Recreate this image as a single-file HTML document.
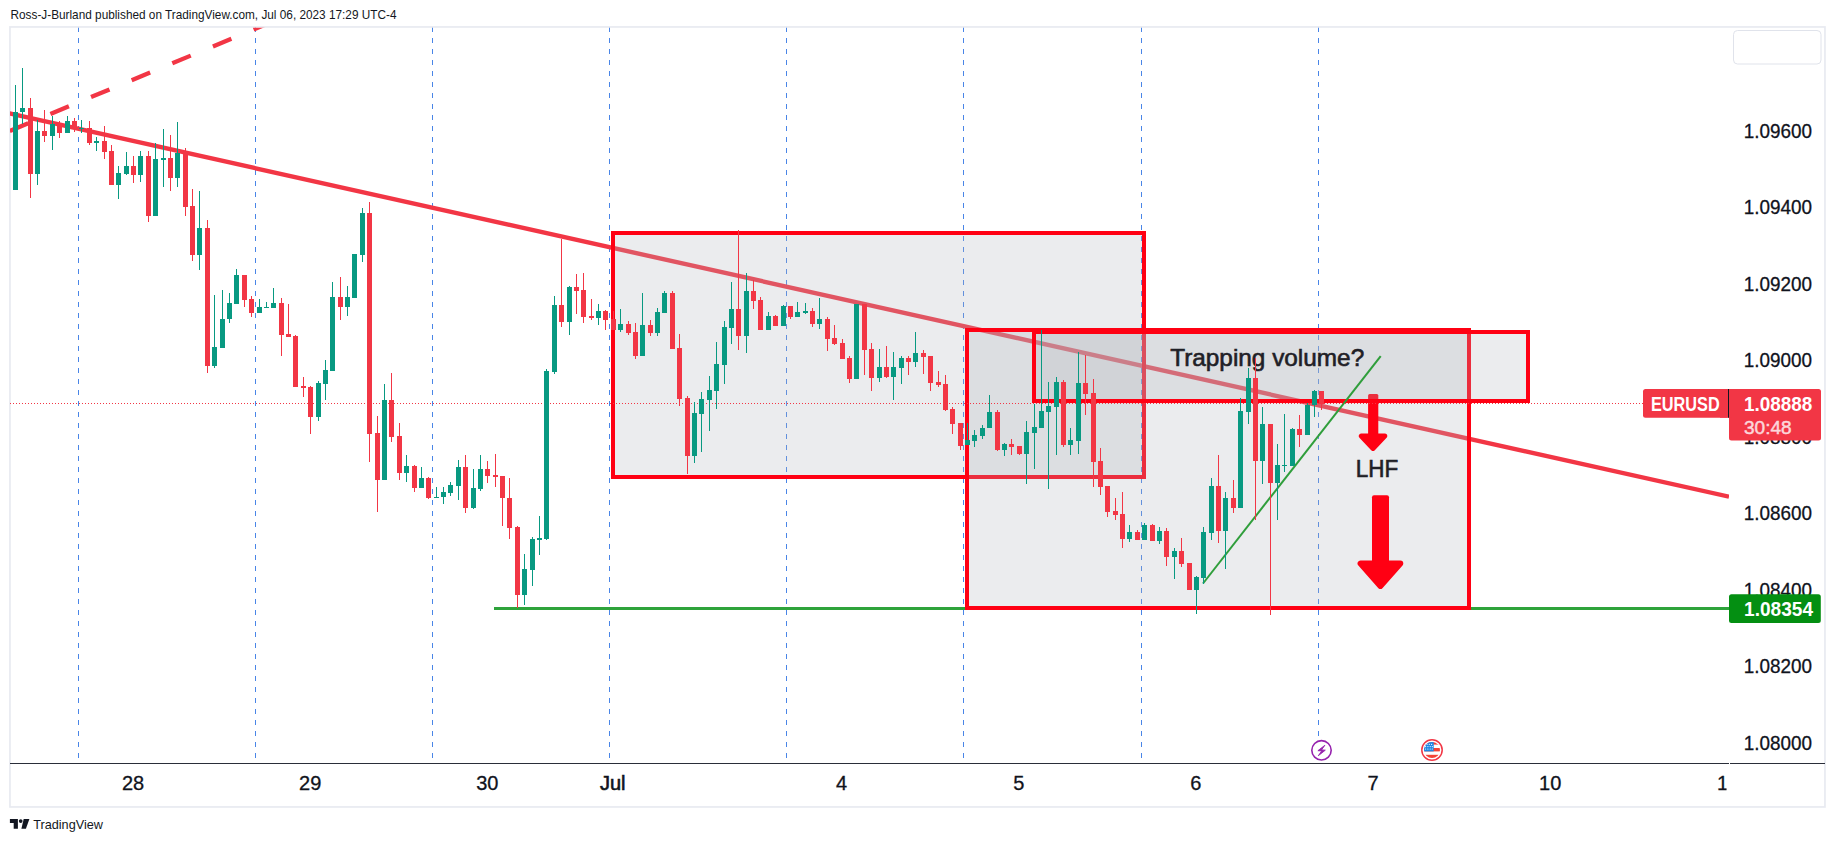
<!DOCTYPE html>
<html lang="en"><head><meta charset="utf-8"><title>EURUSD chart</title>
<style>
html,body{margin:0;padding:0;background:#fff;}
body{width:1835px;height:842px;overflow:hidden;position:relative;font-family:"Liberation Sans",sans-serif;}
svg{position:absolute;left:0;top:0;display:block}
text{font-family:"Liberation Sans",sans-serif;}
</style></head><body>
<svg width="1835" height="842" viewBox="0 0 1835 842">
<defs>
<clipPath id="pane"><rect x="10" y="27.7" width="1719" height="735.3"/></clipPath>
<clipPath id="taxis"><rect x="10" y="764" width="1716.5" height="42"/></clipPath>
<clipPath id="flagc"><circle cx="1432" cy="750" r="8"/></clipPath>
</defs>
<rect x="0" y="0" width="1835" height="842" fill="#ffffff"/>
<text x="10.5" y="19" font-size="12.9" fill="#131722" textLength="386" lengthAdjust="spacingAndGlyphs">Ross-J-Burland published on TradingView.com, Jul 06, 2023 17:29 UTC-4</text>
<rect x="9.95" y="26.95" width="1815" height="780" fill="none" stroke="#E8EAF1" stroke-width="1.7"/>
<rect x="1733.5" y="30.5" width="87.5" height="33.5" rx="4" fill="#fff" stroke="#E0E3EB" stroke-width="1"/>
<g clip-path="url(#pane)">
<line x1="78.5" y1="27" x2="78.5" y2="758" stroke="#4985E7" stroke-width="1" stroke-dasharray="5 6" shape-rendering="crispEdges"/>
<line x1="255.5" y1="27" x2="255.5" y2="758" stroke="#4985E7" stroke-width="1" stroke-dasharray="5 6" shape-rendering="crispEdges"/>
<line x1="432.5" y1="27" x2="432.5" y2="758" stroke="#4985E7" stroke-width="1" stroke-dasharray="5 6" shape-rendering="crispEdges"/>
<line x1="609.5" y1="27" x2="609.5" y2="758" stroke="#4985E7" stroke-width="1" stroke-dasharray="5 6" shape-rendering="crispEdges"/>
<line x1="786.5" y1="27" x2="786.5" y2="758" stroke="#4985E7" stroke-width="1" stroke-dasharray="5 6" shape-rendering="crispEdges"/>
<line x1="963.5" y1="27" x2="963.5" y2="758" stroke="#4985E7" stroke-width="1" stroke-dasharray="5 6" shape-rendering="crispEdges"/>
<line x1="1141.5" y1="27" x2="1141.5" y2="758" stroke="#4985E7" stroke-width="1" stroke-dasharray="5 6" shape-rendering="crispEdges"/>
<line x1="1318.5" y1="27" x2="1318.5" y2="758" stroke="#4985E7" stroke-width="1" stroke-dasharray="5 6" shape-rendering="crispEdges"/>
<rect x="494" y="607" width="1235" height="3" fill="#2EA33B"/>
<line x1="0" y1="111.3" x2="1729" y2="496.7" stroke="#F23645" stroke-width="4.4"/>
<line x1="9.8" y1="130.9" x2="270" y2="22.66" stroke="#F23645" stroke-width="4.3" stroke-dasharray="20 24"/>
<rect x="613" y="233" width="531" height="244" fill="rgba(177,180,189,0.25)" stroke="#FF0013" stroke-width="4" shape-rendering="crispEdges"/>
<rect x="967" y="330" width="502" height="278" fill="rgba(177,180,189,0.25)" stroke="#FF0013" stroke-width="4" shape-rendering="crispEdges"/>
<g fill="#FF0013" stroke="#FF0013" stroke-linejoin="round"><rect x="1368.1" y="393.9" width="10.200000000000045" height="43.200000000000045" rx="1.5" stroke="none"/><path d="M1361.2 436.1 L1384.8 436.1 L1373 448.4 Z" stroke-width="5.0"/></g>
<g fill="#FF0013" stroke="#FF0013" stroke-linejoin="round"><rect x="1372" y="495.2" width="17" height="69.40000000000003" rx="2" stroke="none"/><path d="M1360.6 563.6 L1400.3 563.6 L1380.4 585.9 Z" stroke-width="6"/></g>
<rect x="1034" y="332" width="494" height="69" fill="rgba(177,180,189,0.25)" stroke="#FF0013" stroke-width="4" shape-rendering="crispEdges"/>
<line x1="1203" y1="583.5" x2="1380.7" y2="356.1" stroke="#2F9E3B" stroke-width="2"/>
<line x1="10" y1="403.5" x2="1729" y2="403.5" stroke="#F23645" stroke-width="1" stroke-dasharray="1 2" shape-rendering="crispEdges"/>
<text x="1170.2" y="365.7" font-size="24" fill="#1F2026" stroke="#1F2026" stroke-width="0.6" textLength="194" lengthAdjust="spacingAndGlyphs">Trapping volume?</text>
<text x="1355.8" y="476.6" font-size="23.5" fill="#1F2026" stroke="#1F2026" stroke-width="0.6" textLength="42.5" lengthAdjust="spacingAndGlyphs">LHF</text>
<g shape-rendering="crispEdges">
<rect x="15" y="85" width="1" height="105" fill="#089981"/><rect x="13" y="112" width="5" height="78" fill="#089981"/>
<rect x="22" y="68" width="1" height="56" fill="#089981"/><rect x="20" y="108" width="5" height="4" fill="#089981"/>
<rect x="30" y="98" width="1" height="100" fill="#F23645"/><rect x="28" y="108" width="5" height="66" fill="#F23645"/>
<rect x="37" y="120" width="1" height="65" fill="#089981"/><rect x="35" y="131" width="5" height="43" fill="#089981"/>
<rect x="44" y="110" width="1" height="32" fill="#F23645"/><rect x="42" y="131" width="5" height="5" fill="#F23645"/>
<rect x="52" y="116" width="1" height="34" fill="#089981"/><rect x="50" y="124" width="5" height="12" fill="#089981"/>
<rect x="59" y="121" width="1" height="17" fill="#F23645"/><rect x="57" y="124" width="5" height="9" fill="#F23645"/>
<rect x="67" y="116" width="1" height="17" fill="#089981"/><rect x="65" y="121" width="5" height="12" fill="#089981"/>
<rect x="74" y="118" width="1" height="14" fill="#F23645"/><rect x="72" y="121" width="5" height="7" fill="#F23645"/>
<rect x="81" y="120" width="1" height="13" fill="#089981"/><rect x="79" y="128" width="5" height="1" fill="#089981"/>
<rect x="89" y="121" width="1" height="24" fill="#F23645"/><rect x="87" y="128" width="5" height="15" fill="#F23645"/>
<rect x="96" y="137" width="1" height="14" fill="#089981"/><rect x="94" y="141" width="5" height="2" fill="#089981"/>
<rect x="104" y="126" width="1" height="33" fill="#F23645"/><rect x="102" y="141" width="5" height="11" fill="#F23645"/>
<rect x="111" y="145" width="1" height="40" fill="#F23645"/><rect x="109" y="151" width="5" height="34" fill="#F23645"/>
<rect x="118" y="166" width="1" height="33" fill="#089981"/><rect x="116" y="173" width="5" height="12" fill="#089981"/>
<rect x="126" y="152" width="1" height="23" fill="#089981"/><rect x="124" y="166" width="5" height="8" fill="#089981"/>
<rect x="133" y="156" width="1" height="27" fill="#F23645"/><rect x="131" y="166" width="5" height="9" fill="#F23645"/>
<rect x="140" y="151" width="1" height="31" fill="#089981"/><rect x="138" y="156" width="5" height="19" fill="#089981"/>
<rect x="148" y="151" width="1" height="71" fill="#F23645"/><rect x="146" y="156" width="5" height="60" fill="#F23645"/>
<rect x="155" y="143" width="1" height="73" fill="#089981"/><rect x="153" y="159" width="5" height="57" fill="#089981"/>
<rect x="163" y="129" width="1" height="58" fill="#089981"/><rect x="161" y="158" width="5" height="2" fill="#089981"/>
<rect x="170" y="135" width="1" height="56" fill="#F23645"/><rect x="168" y="158" width="5" height="20" fill="#F23645"/>
<rect x="177" y="122" width="1" height="65" fill="#089981"/><rect x="175" y="153" width="5" height="25" fill="#089981"/>
<rect x="185" y="148" width="1" height="68" fill="#F23645"/><rect x="183" y="153" width="5" height="54" fill="#F23645"/>
<rect x="192" y="189" width="1" height="72" fill="#F23645"/><rect x="190" y="206" width="5" height="49" fill="#F23645"/>
<rect x="199" y="191" width="1" height="79" fill="#089981"/><rect x="197" y="228" width="5" height="27" fill="#089981"/>
<rect x="207" y="220" width="1" height="153" fill="#F23645"/><rect x="205" y="228" width="5" height="138" fill="#F23645"/>
<rect x="214" y="295" width="1" height="73" fill="#089981"/><rect x="212" y="347" width="5" height="19" fill="#089981"/>
<rect x="222" y="290" width="1" height="58" fill="#089981"/><rect x="220" y="319" width="5" height="29" fill="#089981"/>
<rect x="229" y="293" width="1" height="30" fill="#089981"/><rect x="227" y="303" width="5" height="16" fill="#089981"/>
<rect x="236" y="269" width="1" height="35" fill="#089981"/><rect x="234" y="275" width="5" height="29" fill="#089981"/>
<rect x="244" y="275" width="1" height="32" fill="#F23645"/><rect x="242" y="275" width="5" height="25" fill="#F23645"/>
<rect x="251" y="296" width="1" height="21" fill="#F23645"/><rect x="249" y="299" width="5" height="14" fill="#F23645"/>
<rect x="259" y="299" width="1" height="14" fill="#089981"/><rect x="257" y="307" width="5" height="6" fill="#089981"/>
<rect x="266" y="302" width="1" height="6" fill="#089981"/><rect x="264" y="307" width="5" height="1" fill="#089981"/>
<rect x="273" y="288" width="1" height="20" fill="#089981"/><rect x="271" y="303" width="5" height="5" fill="#089981"/>
<rect x="281" y="298" width="1" height="58" fill="#F23645"/><rect x="279" y="303" width="5" height="32" fill="#F23645"/>
<rect x="288" y="304" width="1" height="33" fill="#F23645"/><rect x="286" y="334" width="5" height="3" fill="#F23645"/>
<rect x="295" y="335" width="1" height="52" fill="#F23645"/><rect x="293" y="336" width="5" height="51" fill="#F23645"/>
<rect x="303" y="377" width="1" height="20" fill="#F23645"/><rect x="301" y="386" width="5" height="2" fill="#F23645"/>
<rect x="310" y="386" width="1" height="48" fill="#F23645"/><rect x="308" y="387" width="5" height="30" fill="#F23645"/>
<rect x="318" y="381" width="1" height="40" fill="#089981"/><rect x="316" y="383" width="5" height="34" fill="#089981"/>
<rect x="325" y="360" width="1" height="40" fill="#089981"/><rect x="323" y="370" width="5" height="14" fill="#089981"/>
<rect x="332" y="282" width="1" height="89" fill="#089981"/><rect x="330" y="297" width="5" height="74" fill="#089981"/>
<rect x="340" y="277" width="1" height="43" fill="#F23645"/><rect x="338" y="297" width="5" height="10" fill="#F23645"/>
<rect x="347" y="286" width="1" height="30" fill="#089981"/><rect x="345" y="297" width="5" height="10" fill="#089981"/>
<rect x="354" y="254" width="1" height="44" fill="#089981"/><rect x="352" y="254" width="5" height="44" fill="#089981"/>
<rect x="362" y="208" width="1" height="54" fill="#089981"/><rect x="360" y="213" width="5" height="42" fill="#089981"/>
<rect x="369" y="202" width="1" height="260" fill="#F23645"/><rect x="367" y="213" width="5" height="221" fill="#F23645"/>
<rect x="377" y="416" width="1" height="96" fill="#F23645"/><rect x="375" y="433" width="5" height="47" fill="#F23645"/>
<rect x="384" y="384" width="1" height="96" fill="#089981"/><rect x="382" y="400" width="5" height="80" fill="#089981"/>
<rect x="391" y="373" width="1" height="69" fill="#F23645"/><rect x="389" y="400" width="5" height="37" fill="#F23645"/>
<rect x="399" y="423" width="1" height="57" fill="#F23645"/><rect x="397" y="436" width="5" height="37" fill="#F23645"/>
<rect x="406" y="455" width="1" height="27" fill="#089981"/><rect x="404" y="466" width="5" height="7" fill="#089981"/>
<rect x="414" y="465" width="1" height="27" fill="#F23645"/><rect x="412" y="466" width="5" height="22" fill="#F23645"/>
<rect x="421" y="467" width="1" height="21" fill="#089981"/><rect x="419" y="478" width="5" height="10" fill="#089981"/>
<rect x="428" y="477" width="1" height="22" fill="#F23645"/><rect x="426" y="478" width="5" height="20" fill="#F23645"/>
<rect x="436" y="487" width="1" height="11" fill="#089981"/><rect x="434" y="497" width="5" height="1" fill="#089981"/>
<rect x="443" y="487" width="1" height="17" fill="#089981"/><rect x="441" y="492" width="5" height="5" fill="#089981"/>
<rect x="450" y="482" width="1" height="14" fill="#089981"/><rect x="448" y="485" width="5" height="8" fill="#089981"/>
<rect x="458" y="460" width="1" height="40" fill="#089981"/><rect x="456" y="467" width="5" height="19" fill="#089981"/>
<rect x="465" y="455" width="1" height="58" fill="#F23645"/><rect x="463" y="467" width="5" height="41" fill="#F23645"/>
<rect x="473" y="469" width="1" height="40" fill="#089981"/><rect x="471" y="488" width="5" height="20" fill="#089981"/>
<rect x="480" y="455" width="1" height="36" fill="#089981"/><rect x="478" y="469" width="5" height="20" fill="#089981"/>
<rect x="487" y="461" width="1" height="22" fill="#F23645"/><rect x="485" y="469" width="5" height="7" fill="#F23645"/>
<rect x="495" y="454" width="1" height="33" fill="#F23645"/><rect x="493" y="475" width="5" height="2" fill="#F23645"/>
<rect x="502" y="476" width="1" height="50" fill="#F23645"/><rect x="500" y="476" width="5" height="22" fill="#F23645"/>
<rect x="509" y="478" width="1" height="61" fill="#F23645"/><rect x="507" y="498" width="5" height="30" fill="#F23645"/>
<rect x="517" y="526" width="1" height="82" fill="#F23645"/><rect x="515" y="527" width="5" height="68" fill="#F23645"/>
<rect x="524" y="554" width="1" height="51" fill="#089981"/><rect x="522" y="569" width="5" height="26" fill="#089981"/>
<rect x="532" y="537" width="1" height="49" fill="#089981"/><rect x="530" y="539" width="5" height="31" fill="#089981"/>
<rect x="539" y="516" width="1" height="39" fill="#089981"/><rect x="537" y="538" width="5" height="2" fill="#089981"/>
<rect x="546" y="369" width="1" height="171" fill="#089981"/><rect x="544" y="371" width="5" height="168" fill="#089981"/>
<rect x="554" y="296" width="1" height="78" fill="#089981"/><rect x="552" y="305" width="5" height="67" fill="#089981"/>
<rect x="561" y="239" width="1" height="88" fill="#F23645"/><rect x="559" y="305" width="5" height="17" fill="#F23645"/>
<rect x="569" y="286" width="1" height="49" fill="#089981"/><rect x="567" y="287" width="5" height="35" fill="#089981"/>
<rect x="576" y="274" width="1" height="40" fill="#F23645"/><rect x="574" y="287" width="5" height="4" fill="#F23645"/>
<rect x="583" y="273" width="1" height="50" fill="#F23645"/><rect x="581" y="290" width="5" height="27" fill="#F23645"/>
<rect x="591" y="299" width="1" height="21" fill="#F23645"/><rect x="589" y="316" width="5" height="2" fill="#F23645"/>
<rect x="598" y="304" width="1" height="21" fill="#089981"/><rect x="596" y="311" width="5" height="7" fill="#089981"/>
<rect x="605" y="310" width="1" height="20" fill="#F23645"/><rect x="603" y="311" width="5" height="9" fill="#F23645"/>
<rect x="613" y="311" width="1" height="19" fill="#F23645"/><rect x="611" y="319" width="5" height="11" fill="#F23645"/>
<rect x="620" y="309" width="1" height="23" fill="#089981"/><rect x="618" y="324" width="5" height="6" fill="#089981"/>
<rect x="628" y="321" width="1" height="14" fill="#F23645"/><rect x="626" y="324" width="5" height="9" fill="#F23645"/>
<rect x="635" y="323" width="1" height="36" fill="#F23645"/><rect x="633" y="332" width="5" height="24" fill="#F23645"/>
<rect x="642" y="293" width="1" height="63" fill="#089981"/><rect x="640" y="325" width="5" height="31" fill="#089981"/>
<rect x="650" y="320" width="1" height="16" fill="#F23645"/><rect x="648" y="325" width="5" height="8" fill="#F23645"/>
<rect x="657" y="308" width="1" height="28" fill="#089981"/><rect x="655" y="312" width="5" height="21" fill="#089981"/>
<rect x="664" y="291" width="1" height="22" fill="#089981"/><rect x="662" y="293" width="5" height="20" fill="#089981"/>
<rect x="672" y="291" width="1" height="58" fill="#F23645"/><rect x="670" y="293" width="5" height="56" fill="#F23645"/>
<rect x="679" y="334" width="1" height="72" fill="#F23645"/><rect x="677" y="348" width="5" height="51" fill="#F23645"/>
<rect x="687" y="396" width="1" height="78" fill="#F23645"/><rect x="685" y="398" width="5" height="58" fill="#F23645"/>
<rect x="694" y="402" width="1" height="61" fill="#089981"/><rect x="692" y="413" width="5" height="43" fill="#089981"/>
<rect x="701" y="392" width="1" height="60" fill="#089981"/><rect x="699" y="399" width="5" height="15" fill="#089981"/>
<rect x="709" y="376" width="1" height="55" fill="#089981"/><rect x="707" y="390" width="5" height="10" fill="#089981"/>
<rect x="716" y="342" width="1" height="67" fill="#089981"/><rect x="714" y="364" width="5" height="27" fill="#089981"/>
<rect x="724" y="321" width="1" height="63" fill="#089981"/><rect x="722" y="327" width="5" height="38" fill="#089981"/>
<rect x="731" y="282" width="1" height="62" fill="#089981"/><rect x="729" y="309" width="5" height="19" fill="#089981"/>
<rect x="738" y="230" width="1" height="120" fill="#F23645"/><rect x="736" y="309" width="5" height="27" fill="#F23645"/>
<rect x="746" y="273" width="1" height="80" fill="#089981"/><rect x="744" y="291" width="5" height="45" fill="#089981"/>
<rect x="753" y="280" width="1" height="29" fill="#F23645"/><rect x="751" y="291" width="5" height="10" fill="#F23645"/>
<rect x="760" y="297" width="1" height="33" fill="#F23645"/><rect x="758" y="300" width="5" height="30" fill="#F23645"/>
<rect x="768" y="312" width="1" height="18" fill="#089981"/><rect x="766" y="316" width="5" height="14" fill="#089981"/>
<rect x="775" y="315" width="1" height="11" fill="#F23645"/><rect x="773" y="316" width="5" height="10" fill="#F23645"/>
<rect x="783" y="305" width="1" height="21" fill="#089981"/><rect x="781" y="306" width="5" height="20" fill="#089981"/>
<rect x="790" y="306" width="1" height="13" fill="#F23645"/><rect x="788" y="306" width="5" height="11" fill="#F23645"/>
<rect x="797" y="302" width="1" height="15" fill="#089981"/><rect x="795" y="312" width="5" height="5" fill="#089981"/>
<rect x="805" y="303" width="1" height="11" fill="#089981"/><rect x="803" y="311" width="5" height="2" fill="#089981"/>
<rect x="812" y="308" width="1" height="19" fill="#F23645"/><rect x="810" y="311" width="5" height="13" fill="#F23645"/>
<rect x="819" y="298" width="1" height="31" fill="#089981"/><rect x="817" y="319" width="5" height="5" fill="#089981"/>
<rect x="827" y="317" width="1" height="34" fill="#F23645"/><rect x="825" y="319" width="5" height="20" fill="#F23645"/>
<rect x="834" y="325" width="1" height="20" fill="#F23645"/><rect x="832" y="338" width="5" height="6" fill="#F23645"/>
<rect x="842" y="339" width="1" height="20" fill="#F23645"/><rect x="840" y="343" width="5" height="16" fill="#F23645"/>
<rect x="849" y="356" width="1" height="27" fill="#F23645"/><rect x="847" y="358" width="5" height="21" fill="#F23645"/>
<rect x="856" y="304" width="1" height="75" fill="#089981"/><rect x="854" y="304" width="5" height="75" fill="#089981"/>
<rect x="864" y="304" width="1" height="71" fill="#F23645"/><rect x="862" y="304" width="5" height="46" fill="#F23645"/>
<rect x="871" y="343" width="1" height="48" fill="#F23645"/><rect x="869" y="349" width="5" height="29" fill="#F23645"/>
<rect x="879" y="349" width="1" height="33" fill="#089981"/><rect x="877" y="367" width="5" height="11" fill="#089981"/>
<rect x="886" y="346" width="1" height="32" fill="#F23645"/><rect x="884" y="367" width="5" height="10" fill="#F23645"/>
<rect x="893" y="352" width="1" height="48" fill="#089981"/><rect x="891" y="367" width="5" height="10" fill="#089981"/>
<rect x="901" y="356" width="1" height="28" fill="#089981"/><rect x="899" y="358" width="5" height="10" fill="#089981"/>
<rect x="908" y="356" width="1" height="19" fill="#F23645"/><rect x="906" y="358" width="5" height="4" fill="#F23645"/>
<rect x="915" y="332" width="1" height="35" fill="#089981"/><rect x="913" y="353" width="5" height="9" fill="#089981"/>
<rect x="923" y="350" width="1" height="24" fill="#F23645"/><rect x="921" y="353" width="5" height="4" fill="#F23645"/>
<rect x="930" y="356" width="1" height="35" fill="#F23645"/><rect x="928" y="356" width="5" height="27" fill="#F23645"/>
<rect x="938" y="371" width="1" height="16" fill="#F23645"/><rect x="936" y="382" width="5" height="3" fill="#F23645"/>
<rect x="945" y="375" width="1" height="36" fill="#F23645"/><rect x="943" y="384" width="5" height="26" fill="#F23645"/>
<rect x="952" y="407" width="1" height="27" fill="#F23645"/><rect x="950" y="409" width="5" height="15" fill="#F23645"/>
<rect x="960" y="423" width="1" height="27" fill="#F23645"/><rect x="958" y="423" width="5" height="23" fill="#F23645"/>
<rect x="967" y="423" width="1" height="22" fill="#089981"/><rect x="965" y="440" width="5" height="5" fill="#089981"/>
<rect x="974" y="430" width="1" height="17" fill="#089981"/><rect x="972" y="435" width="5" height="6" fill="#089981"/>
<rect x="982" y="425" width="1" height="14" fill="#089981"/><rect x="980" y="428" width="5" height="8" fill="#089981"/>
<rect x="989" y="395" width="1" height="33" fill="#089981"/><rect x="987" y="412" width="5" height="16" fill="#089981"/>
<rect x="997" y="410" width="1" height="41" fill="#F23645"/><rect x="995" y="412" width="5" height="38" fill="#F23645"/>
<rect x="1004" y="443" width="1" height="13" fill="#089981"/><rect x="1002" y="444" width="5" height="6" fill="#089981"/>
<rect x="1011" y="439" width="1" height="16" fill="#F23645"/><rect x="1009" y="444" width="5" height="3" fill="#F23645"/>
<rect x="1019" y="446" width="1" height="9" fill="#F23645"/><rect x="1017" y="446" width="5" height="8" fill="#F23645"/>
<rect x="1026" y="421" width="1" height="63" fill="#089981"/><rect x="1024" y="432" width="5" height="22" fill="#089981"/>
<rect x="1034" y="404" width="1" height="65" fill="#089981"/><rect x="1032" y="427" width="5" height="6" fill="#089981"/>
<rect x="1041" y="330" width="1" height="98" fill="#089981"/><rect x="1039" y="411" width="5" height="17" fill="#089981"/>
<rect x="1048" y="382" width="1" height="107" fill="#089981"/><rect x="1046" y="406" width="5" height="6" fill="#089981"/>
<rect x="1056" y="377" width="1" height="78" fill="#089981"/><rect x="1054" y="382" width="5" height="25" fill="#089981"/>
<rect x="1063" y="380" width="1" height="67" fill="#F23645"/><rect x="1061" y="382" width="5" height="63" fill="#F23645"/>
<rect x="1070" y="428" width="1" height="27" fill="#089981"/><rect x="1068" y="440" width="5" height="5" fill="#089981"/>
<rect x="1078" y="352" width="1" height="102" fill="#089981"/><rect x="1076" y="383" width="5" height="58" fill="#089981"/>
<rect x="1085" y="355" width="1" height="60" fill="#F23645"/><rect x="1083" y="383" width="5" height="11" fill="#F23645"/>
<rect x="1093" y="379" width="1" height="108" fill="#F23645"/><rect x="1091" y="393" width="5" height="69" fill="#F23645"/>
<rect x="1100" y="448" width="1" height="47" fill="#F23645"/><rect x="1098" y="461" width="5" height="26" fill="#F23645"/>
<rect x="1107" y="486" width="1" height="31" fill="#F23645"/><rect x="1105" y="486" width="5" height="26" fill="#F23645"/>
<rect x="1115" y="498" width="1" height="22" fill="#F23645"/><rect x="1113" y="511" width="5" height="4" fill="#F23645"/>
<rect x="1122" y="492" width="1" height="56" fill="#F23645"/><rect x="1120" y="514" width="5" height="25" fill="#F23645"/>
<rect x="1129" y="525" width="1" height="17" fill="#089981"/><rect x="1127" y="532" width="5" height="7" fill="#089981"/>
<rect x="1137" y="530" width="1" height="10" fill="#F23645"/><rect x="1135" y="532" width="5" height="8" fill="#F23645"/>
<rect x="1144" y="523" width="1" height="17" fill="#089981"/><rect x="1142" y="525" width="5" height="15" fill="#089981"/>
<rect x="1152" y="524" width="1" height="17" fill="#F23645"/><rect x="1150" y="525" width="5" height="16" fill="#F23645"/>
<rect x="1159" y="527" width="1" height="17" fill="#089981"/><rect x="1157" y="531" width="5" height="10" fill="#089981"/>
<rect x="1166" y="528" width="1" height="38" fill="#F23645"/><rect x="1164" y="531" width="5" height="26" fill="#F23645"/>
<rect x="1174" y="548" width="1" height="31" fill="#089981"/><rect x="1172" y="551" width="5" height="6" fill="#089981"/>
<rect x="1181" y="538" width="1" height="29" fill="#F23645"/><rect x="1179" y="551" width="5" height="13" fill="#F23645"/>
<rect x="1189" y="563" width="1" height="27" fill="#F23645"/><rect x="1187" y="563" width="5" height="27" fill="#F23645"/>
<rect x="1196" y="576" width="1" height="38" fill="#089981"/><rect x="1194" y="577" width="5" height="13" fill="#089981"/>
<rect x="1203" y="527" width="1" height="57" fill="#089981"/><rect x="1201" y="532" width="5" height="46" fill="#089981"/>
<rect x="1211" y="478" width="1" height="62" fill="#089981"/><rect x="1209" y="486" width="5" height="47" fill="#089981"/>
<rect x="1218" y="455" width="1" height="88" fill="#F23645"/><rect x="1216" y="486" width="5" height="45" fill="#F23645"/>
<rect x="1225" y="492" width="1" height="77" fill="#089981"/><rect x="1223" y="498" width="5" height="33" fill="#089981"/>
<rect x="1233" y="480" width="1" height="33" fill="#F23645"/><rect x="1231" y="498" width="5" height="10" fill="#F23645"/>
<rect x="1240" y="398" width="1" height="110" fill="#089981"/><rect x="1238" y="411" width="5" height="97" fill="#089981"/>
<rect x="1248" y="368" width="1" height="56" fill="#089981"/><rect x="1246" y="378" width="5" height="34" fill="#089981"/>
<rect x="1255" y="358" width="1" height="162" fill="#F23645"/><rect x="1253" y="378" width="5" height="83" fill="#F23645"/>
<rect x="1262" y="407" width="1" height="77" fill="#089981"/><rect x="1260" y="424" width="5" height="37" fill="#089981"/>
<rect x="1270" y="424" width="1" height="191" fill="#F23645"/><rect x="1268" y="424" width="5" height="59" fill="#F23645"/>
<rect x="1277" y="444" width="1" height="76" fill="#089981"/><rect x="1275" y="465" width="5" height="18" fill="#089981"/>
<rect x="1284" y="414" width="1" height="58" fill="#089981"/><rect x="1282" y="465" width="5" height="1" fill="#089981"/>
<rect x="1292" y="428" width="1" height="38" fill="#089981"/><rect x="1290" y="429" width="5" height="37" fill="#089981"/>
<rect x="1299" y="415" width="1" height="32" fill="#F23645"/><rect x="1297" y="429" width="5" height="6" fill="#F23645"/>
<rect x="1307" y="403" width="1" height="32" fill="#089981"/><rect x="1305" y="405" width="5" height="30" fill="#089981"/>
<rect x="1314" y="390" width="1" height="27" fill="#089981"/><rect x="1312" y="391" width="5" height="14" fill="#089981"/>
<rect x="1321" y="391" width="1" height="19" fill="#F23645"/><rect x="1319" y="391" width="5" height="13" fill="#F23645"/>
</g>
<g>
<circle cx="1321.5" cy="750.3" r="9.7" fill="#fff" stroke="#9622AE" stroke-width="1.6"/>
<path d="M1324.85 745.3 L1317.9 750.7 L1321.8 750.9 L1318.3 755.7 L1325.3 750.2 L1321.5 749.9 Z" fill="#9622AE" stroke="#9622AE" stroke-width="0.9" stroke-linejoin="round"/>
<circle cx="1432" cy="750" r="10.2" fill="#fff" stroke="#F23645" stroke-width="1.5"/>
<g clip-path="url(#flagc)">
<rect x="1423" y="741" width="18" height="18" fill="#fff"/>
<rect x="1423" y="741" width="18" height="3.6" fill="#F44336"/>
<rect x="1423" y="748" width="18" height="3.4" fill="#F44336"/>
<rect x="1423" y="754.8" width="18" height="4" fill="#F44336"/>
<rect x="1423" y="741" width="10.7" height="10.4" fill="#1E88E5"/>
<g fill="#fff"><circle cx="1427" cy="744.3" r="0.6"/><circle cx="1429.3" cy="744.3" r="0.6"/><circle cx="1431.6" cy="744.3" r="0.6"/>
<circle cx="1425.6" cy="746.6" r="0.6"/><circle cx="1427.9" cy="746.6" r="0.6"/><circle cx="1430.2" cy="746.6" r="0.6"/><circle cx="1432.3" cy="746.6" r="0.6"/>
<circle cx="1425.6" cy="749" r="0.6"/><circle cx="1427.9" cy="749" r="0.6"/><circle cx="1430.2" cy="749" r="0.6"/><circle cx="1432.3" cy="749" r="0.6"/></g>
</g>
</g>
</g>
<rect x="10" y="763" width="1815" height="1" fill="#2A2E39"/>
<rect x="1729" y="763" width="1" height="1" fill="#fff"/>
<g clip-path="url(#taxis)" font-size="20" fill="#10131C" stroke="#10131C" stroke-width="0.3" text-anchor="middle">
<text x="133.0" y="790">28</text>
<text x="310.2" y="790">29</text>
<text x="487.3" y="790">30</text>
<text x="612.8" y="790" stroke-width="0.6">Jul</text>
<text x="841.6" y="790">4</text>
<text x="1018.8" y="790">5</text>
<text x="1195.9" y="790">6</text>
<text x="1373.0" y="790">7</text>
<text x="1550.2" y="790">10</text>
<text x="1727.3" y="790">11</text>
</g>
<g font-size="20" fill="#10131C" stroke="#10131C" stroke-width="0.3">
<text x="1743.7" y="749.80" textLength="68.3" lengthAdjust="spacingAndGlyphs">1.08000</text>
<text x="1743.7" y="673.30" textLength="68.3" lengthAdjust="spacingAndGlyphs">1.08200</text>
<text x="1743.7" y="596.80" textLength="68.3" lengthAdjust="spacingAndGlyphs">1.08400</text>
<text x="1743.7" y="520.30" textLength="68.3" lengthAdjust="spacingAndGlyphs">1.08600</text>
<text x="1743.7" y="443.80" textLength="68.3" lengthAdjust="spacingAndGlyphs">1.08800</text>
<text x="1743.7" y="367.30" textLength="68.3" lengthAdjust="spacingAndGlyphs">1.09000</text>
<text x="1743.7" y="290.80" textLength="68.3" lengthAdjust="spacingAndGlyphs">1.09200</text>
<text x="1743.7" y="214.30" textLength="68.3" lengthAdjust="spacingAndGlyphs">1.09400</text>
<text x="1743.7" y="137.80" textLength="68.3" lengthAdjust="spacingAndGlyphs">1.09600</text>
</g>
<rect x="1643" y="389" width="86" height="28.7" rx="2.5" fill="#F23645"/>
<rect x="1729" y="389" width="92" height="51.5" rx="2.5" fill="#F23645"/>
<rect x="1720" y="389" width="12" height="28.7" fill="#F23645"/>
<rect x="1728" y="389" width="1" height="28.7" fill="#131722"/>
<text x="1650.9" y="411" font-size="19.6" font-weight="bold" fill="#fff" textLength="68.8" lengthAdjust="spacingAndGlyphs">EURUSD</text>
<text x="1744" y="411" font-size="19.6" font-weight="bold" fill="#fff" textLength="68.4" lengthAdjust="spacingAndGlyphs">1.08888</text>
<text x="1744" y="433.9" font-size="19" fill="#FCD7DA" stroke="#FCD7DA" stroke-width="0.5" textLength="47.7" lengthAdjust="spacingAndGlyphs">30:48</text>
<rect x="1729" y="594.2" width="91.8" height="28.7" rx="2.5" fill="#048F12"/>
<text x="1744.1" y="616" font-size="19.6" font-weight="bold" fill="#fff" textLength="68.9" lengthAdjust="spacingAndGlyphs">1.08354</text>
<g fill="#131722">
<path d="M9.9 819.1 H17.9 V828.8 H13.7 V822.9 H9.9 Z"/>
<circle cx="20.7" cy="821.05" r="1.85"/>
<path d="M23.7 819.1 H29.4 L25.9 828.8 H21.4 Z"/>
</g>
<text x="33.2" y="828.8" font-size="12.8" fill="#131722" textLength="69.8" lengthAdjust="spacingAndGlyphs">TradingView</text>
</svg>
</body></html>
